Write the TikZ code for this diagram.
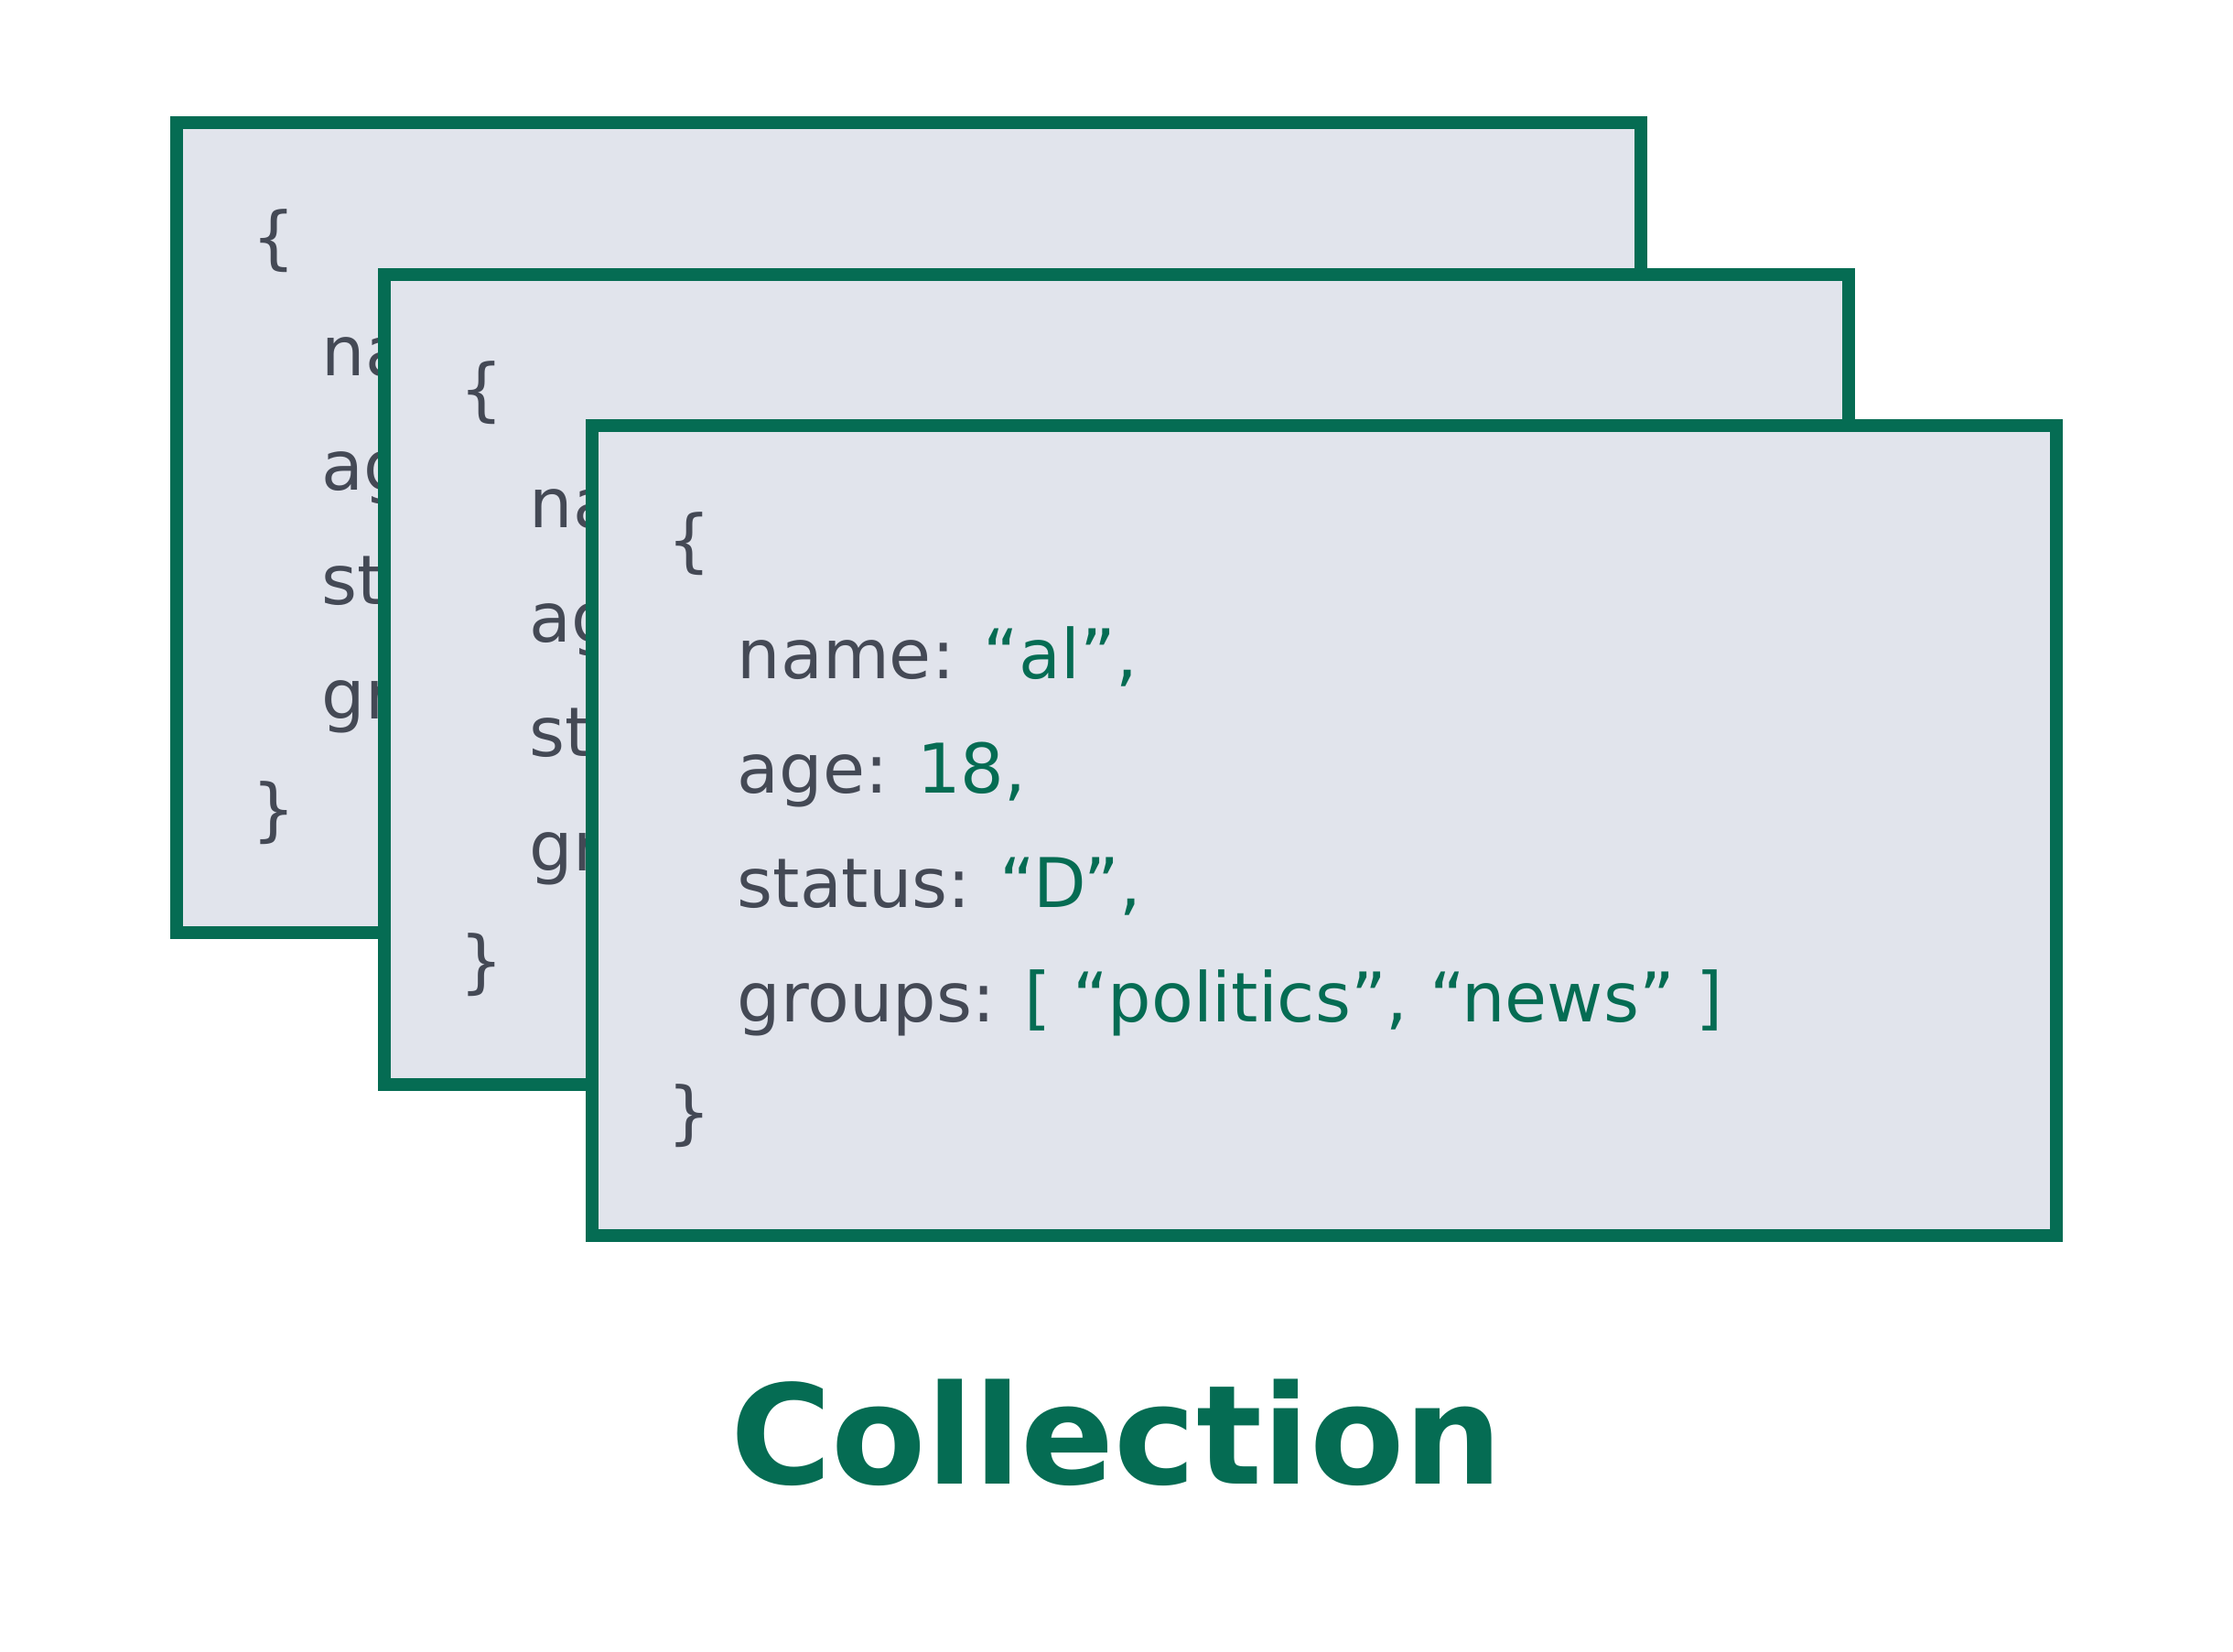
\documentclass[tikz,border=0pt]{standalone}
\usepackage{fontspec}
\setmainfont{DejaVu Sans}
\begin{document}
\begin{tikzpicture}[line join=miter]
				\definecolor{docgreen}{HTML}{056C53}
				\definecolor{docfill}{HTML}{E1E4EC}
				\definecolor{keygray}{HTML}{444955}
				\useasboundingbox (0,0) rectangle (24.4,18.04);
				
				\def\W{16}
				\def\H{8.85}
				
				\tikzset{doc/.pic={
						\draw[docgreen,line width=4.1pt,fill=docfill] (0,0) rectangle (\W,-\H);
						\begin{scope}[every node/.style={anchor=base west,inner sep=0pt,text=keygray,font=\fontsize{21.3}{25}\selectfont}]
							\node (open) at (.82,-1.52) {\{};
							\node (name) at (1.58,-2.77) {name: \textcolor{docgreen}{“al”,}};
							\node (age) at (1.58,-4.02) {age: \textcolor{docgreen}{18,}};
							\node (status) at (1.58,-5.27) {status: \textcolor{docgreen}{“D”,}};
							\node (groups) at (1.58,-6.52) {groups: \textcolor{docgreen}{[ “politics”, “news” ]}};
							\node (close) at (.82,-7.77) {\}};
						\end{scope}
				}}
				
				% back to front
				\foreach \i/\j/\k in{1.93/16.70/first,4.20/15.04/second,6.47/13.39/third}{
					\path
					(\i,\j)pic (\k) {doc};
				}
				
				\node[anchor=base,inner sep=0pt,text=docgreen,font=\fontsize{42.9}{50}\selectfont\bfseries] (title) at (12.2,1.83) {Collection};
			\end{tikzpicture}
\end{document}
